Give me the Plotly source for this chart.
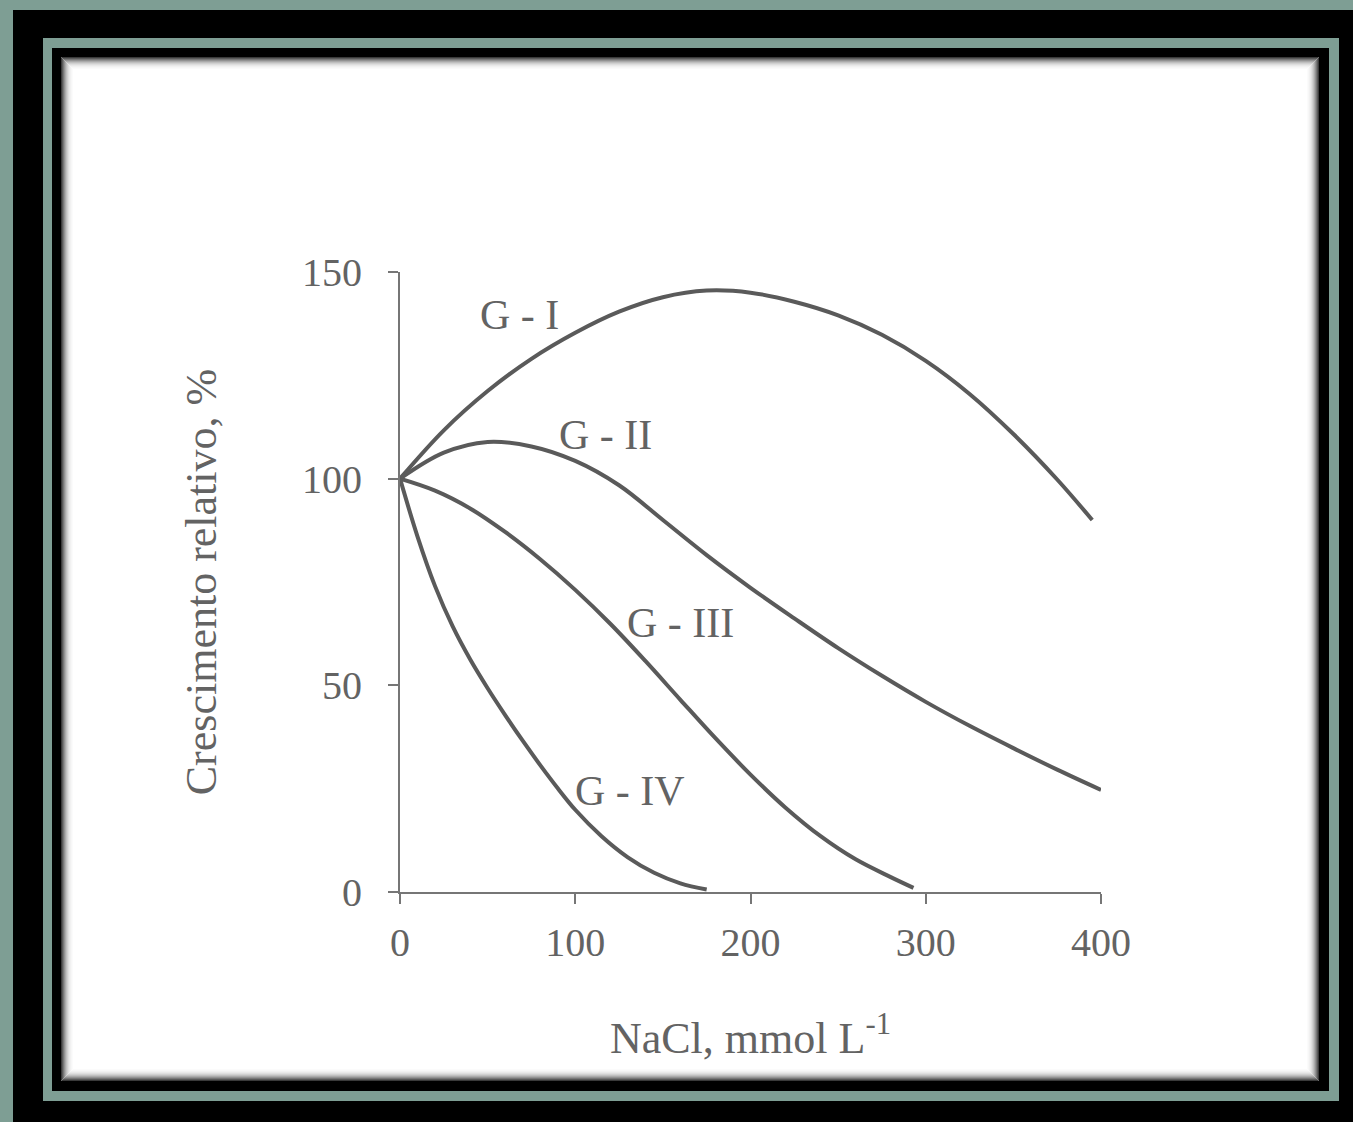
import plotly.graph_objects as go

W, H = 1353, 1122

# ---- data ----
x_g1 = [0, 25, 50, 75, 100, 125, 150, 175, 200, 225, 250, 275, 300, 325, 350, 375, 395]
y_g1 = [100, 111.7, 121.2, 129, 135.3, 140.4, 143.9, 145.5, 145.0, 142.8, 139.5, 134.8, 128.5, 120.5, 110.8, 99.8, 90]

x_g2 = [0, 25, 50, 75, 100, 125, 150, 175, 200, 225, 250, 275, 300, 325, 350, 375, 400]
y_g2 = [100, 106.3, 108.9, 107.8, 104.3, 98.4, 90.0, 81.5, 73.6, 66.2, 59.0, 52.3, 46.0, 40.2, 34.8, 29.6, 24.7]

x_g3 = [0, 20, 40, 60, 80, 100, 120, 140, 160, 180, 200, 220, 240, 260, 280, 293]
y_g3 = [100, 97.1, 92.8, 87.1, 80.5, 73.1, 64.9, 55.9, 46.5, 37.2, 28.4, 20.4, 13.5, 7.9, 3.6, 1.0]

x_g4 = [0, 10, 20, 30, 40, 50, 60, 70, 80, 90, 100, 115, 130, 145, 160, 175]
y_g4 = [100, 86, 74, 64.3, 56.3, 49.3, 42.8, 36.6, 30.7, 25.1, 19.9, 13.5, 8.4, 4.65, 2.1, 0.6]

series_names = ["G - I", "G - II", "G - III", "G - IV"]
label_x = [68, 117, 160, 131]
label_y = [139.5, 110.5, 65, 24.5]

x_ticks = [0, 100, 200, 300, 400]
y_ticks = [0, 50, 100, 150]

# ---- layout helpers (pixel -> paper fraction of the whole figure) ----
def px(x):
    return x / W

def py(y):
    return 1 - y / H

TEAL = "#7e9e94"
CURVE = "#5a5a5a"
TEXT = "#636363"
AXIS = "#767676"
FONT = "Liberation Serif"

fig = go.Figure()
for xs, ys, name in zip([x_g1, x_g2, x_g3, x_g4], [y_g1, y_g2, y_g3, y_g4], series_names):
    fig.add_trace(go.Scatter(x=xs, y=ys, mode="lines", name=name,
                             line=dict(color=CURVE, width=4, shape="spline", smoothing=1.0),
                             showlegend=False, hoverinfo="skip"))

for name, lx, ly in zip(series_names, label_x, label_y):
    fig.add_annotation(x=lx, y=ly, xref="x", yref="y", text=name, showarrow=False,
                       font=dict(family=FONT, size=42, color=TEXT))

shapes = []
# outer teal strips (top & left), background black
shapes.append(dict(type="rect", xref="paper", yref="paper", x0=px(0), x1=px(W), y0=py(0), y1=py(10),
                   fillcolor=TEAL, line=dict(width=0), layer="below"))
shapes.append(dict(type="rect", xref="paper", yref="paper", x0=px(0), x1=px(13), y0=py(0), y1=py(H),
                   fillcolor=TEAL, line=dict(width=0), layer="below"))
# inner teal frame
shapes.append(dict(type="rect", xref="paper", yref="paper", x0=px(43), x1=px(1339), y0=py(38), y1=py(1101),
                   fillcolor=TEAL, line=dict(width=0), layer="below"))
shapes.append(dict(type="rect", xref="paper", yref="paper", x0=px(52), x1=px(1329), y0=py(48), y1=py(1091),
                   fillcolor="black", line=dict(width=0), layer="below"))
# white panel with soft inner shadow
shapes.append(dict(type="rect", xref="paper", yref="paper", x0=px(61), x1=px(1319), y0=py(57), y1=py(1081),
                   fillcolor="white", line=dict(width=0), layer="below"))
shade = ["#3a3a3a", "#5a5a5a", "#777777", "#929292", "#aaaaaa", "#bfbfbf", "#d0d0d0",
         "#dedede", "#e9e9e9", "#f1f1f1", "#f7f7f7", "#fbfbfb"]
for i, c in enumerate(shade):
    o = i + 0.5
    shapes.append(dict(type="rect", xref="paper", yref="paper",
                       x0=px(61 + o), x1=px(1319 - o), y0=py(57 + o), y1=py(1081 - o),
                       fillcolor="rgba(0,0,0,0)", line=dict(color=c, width=1), layer="below"))

fig.update_layout(
    width=W, height=H,
    margin=dict(l=0, r=0, t=0, b=0),
    paper_bgcolor="black",
    plot_bgcolor="rgba(0,0,0,0)",
    shapes=shapes,
    font=dict(family=FONT, color=TEXT),
    xaxis=dict(
        domain=[px(400), px(1101)], range=[0, 400], tickvals=x_ticks,
        showline=True, linecolor=AXIS, linewidth=2, ticks="outside", ticklen=10,
        tickcolor=AXIS, tickwidth=2, showgrid=False, zeroline=False,
        tickfont=dict(family=FONT, size=40, color=TEXT), ticklabelstandoff=4,
        title=dict(text="NaCl, mmol L<sup>-1</sup>", font=dict(family=FONT, size=44, color=TEXT), standoff=58),
        automargin=False, fixedrange=True,
    ),
    yaxis=dict(
        domain=[py(892), py(272)], range=[0, 150], tickvals=y_ticks,
        showline=True, linecolor=AXIS, linewidth=2, ticks="outside", ticklen=10,
        tickcolor=AXIS, tickwidth=2, showgrid=False, zeroline=False,
        tickfont=dict(family=FONT, size=40, color=TEXT), ticklabelstandoff=18,
        title=dict(text="Crescimento relativo, %", font=dict(family=FONT, size=44, color=TEXT), standoff=72),
        automargin=False, fixedrange=True,
    ),
)

fig.write_html("out.html",
               config={"displayModeBar": False},
               post_script="document.body.style.margin='0';document.body.style.overflow='hidden';")
